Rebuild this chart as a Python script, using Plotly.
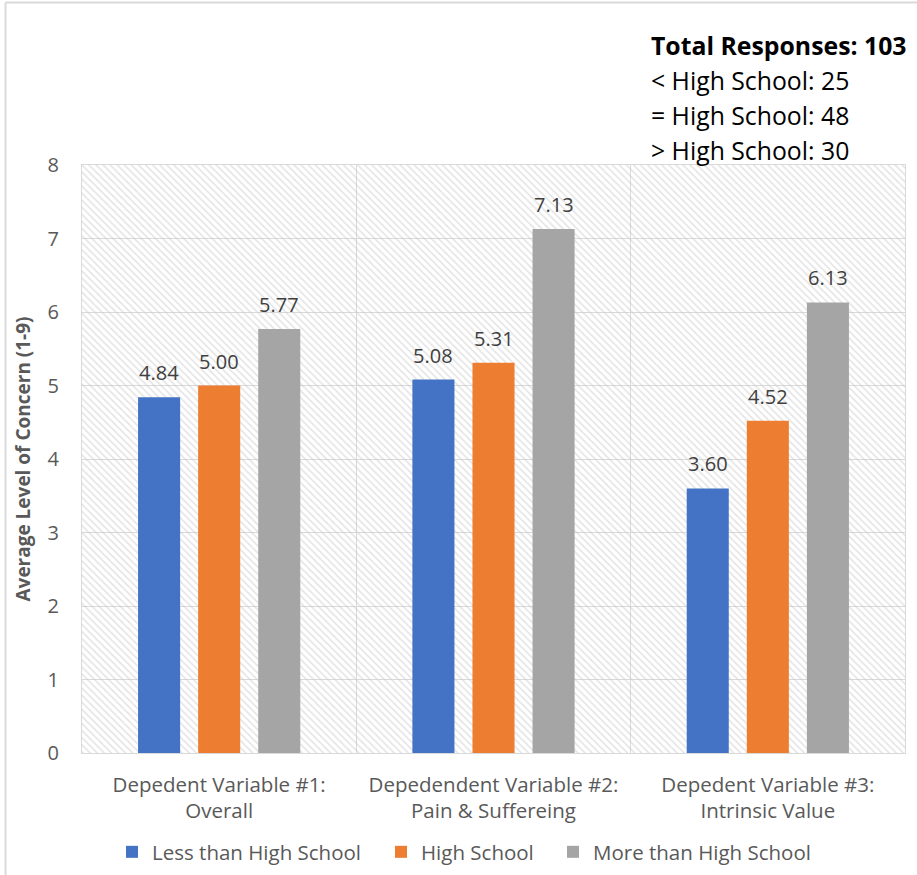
import plotly.graph_objects as go

categories = ["Depedent Variable #1:<br>Overall",
              "Depedendent Variable #2:<br>Pain & Suffereing",
              "Depedent Variable #3:<br>Intrinsic Value"]
series_names = ["Less than High School", "High School", "More than High School"]
less_hs = [4.84, 5.08, 3.60]
hs = [5.00, 5.31, 4.52]
more_hs = [5.77, 7.13, 6.13]
colors = ["#4472C4", "#ED7D31", "#A5A5A5"]
y_max = 8
y_ticks = [0, 1, 2, 3, 4, 5, 6, 7, 8]
info_lines = ["<b>Total Responses: 103</b>", "< High School: 25",
              "= High School: 48", "> High School: 30"]

FONT = "Open Sans"
BARGAP = 0.343
fig = go.Figure()

# hatched background of the plot area (one bar per category, full width)
fig.add_trace(go.Bar(
    x=categories, y=[y_max] * len(categories), width=[1] * len(categories),
    xaxis="x", yaxis="y", showlegend=False, hoverinfo="skip",
    marker=dict(color="rgba(0,0,0,0)", line=dict(width=0),
                pattern=dict(shape="\\", fgcolor="#c8c8c8", bgcolor="rgba(0,0,0,0)",
                             size=5, solidity=0.3, fillmode="overlay")),
))

legend_names = ["legend", "legend2", "legend3"]
all_series = [less_hs, hs, more_hs]
for name, vals, col, lg in zip(series_names, all_series, colors, legend_names):
    fig.add_trace(go.Bar(
        x=categories, y=vals, name=name, xaxis="x2", yaxis="y",
        marker=dict(color=col, line=dict(width=0)), legend=lg,
    ))

# value labels above bars
slot = (1 - BARGAP) / len(all_series)
for i, vals in enumerate(all_series):
    for j, v in enumerate(vals):
        fig.add_annotation(x=j + (i - 1) * slot, y=v, xref="x2", yref="y",
                           text=f"{v:.2f}", showarrow=False, yanchor="bottom",
                           yshift=9, font=dict(size=20, color="#404040", family=FONT))

legend_common = dict(orientation="h", yanchor="middle", y=(753 - 852) / 588, xanchor="left",
                     font=dict(size=20.5, color="#595959", family=FONT),
                     itemwidth=30, bgcolor="rgba(0,0,0,0)")
legend_text_x = [152, 421, 593]

fig.update_layout(
    width=917, height=875,
    margin=dict(l=82, r=12, t=165, b=122, autoexpand=False),
    paper_bgcolor="white", plot_bgcolor="white",
    barmode="group", bargap=BARGAP, bargroupgap=0.3,
    font=dict(family=FONT, color="#595959"),
    xaxis=dict(type="category", categoryorder="array", categoryarray=categories,
               tickson="boundaries", showgrid=True, gridcolor="#d9d9d9", gridwidth=1,
               showline=True, linecolor="#d9d9d9", linewidth=1, mirror=True,
               ticks="", ticklabelstandoff=13, automargin=False,
               tickfont=dict(size=20.5, color="#595959", family=FONT),
               range=[-0.5, 2.5]),
    xaxis2=dict(type="category", categoryorder="array", categoryarray=categories,
                overlaying="x", visible=False, range=[-0.5, 2.5]),
    yaxis=dict(range=[0, y_max], tickvals=y_ticks, showgrid=True, gridcolor="#d9d9d9",
               gridwidth=1, zeroline=False, showline=True, linecolor="#d9d9d9",
               linewidth=1, mirror=True, ticks="", ticklabelstandoff=18, automargin=False,
               tickfont=dict(size=20, color="#595959", family=FONT),
               title=dict(text="<b>Average Level of Concern (1-9)</b>", standoff=11,
                          font=dict(size=19, color="#595959", family=FONT))),
    legend=dict(legend_common, x=(legend_text_x[0] - 40 - 82) / 823),
    legend2=dict(legend_common, x=(legend_text_x[1] - 40 - 82) / 823),
    legend3=dict(legend_common, x=(legend_text_x[2] - 40 - 82) / 823),
    showlegend=True,
)

for i, line in enumerate(info_lines):
    fig.add_annotation(text=line, xref="paper", yref="paper",
                       x=(649 - 82) / 823, y=(753 - (45 + 35 * i)) / 588,
                       xanchor="left", yanchor="middle", showarrow=False,
                       font=dict(size=24.8, color="black", family=FONT))

# outer chart frame (left and top edges visible)
fig.add_shape(type="line", xref="paper", yref="paper",
              x0=(5.5 - 82) / 823, x1=(5.5 - 82) / 823, y0=(753 - 875) / 588, y1=(753 - 2.5) / 588,
              line=dict(color="#d9d9d9", width=2))
fig.add_shape(type="line", xref="paper", yref="paper",
              x0=(5.5 - 82) / 823, x1=(917 - 82) / 823, y0=(753 - 2.5) / 588, y1=(753 - 2.5) / 588,
              line=dict(color="#d9d9d9", width=2))

fig.write_html("out.html")
